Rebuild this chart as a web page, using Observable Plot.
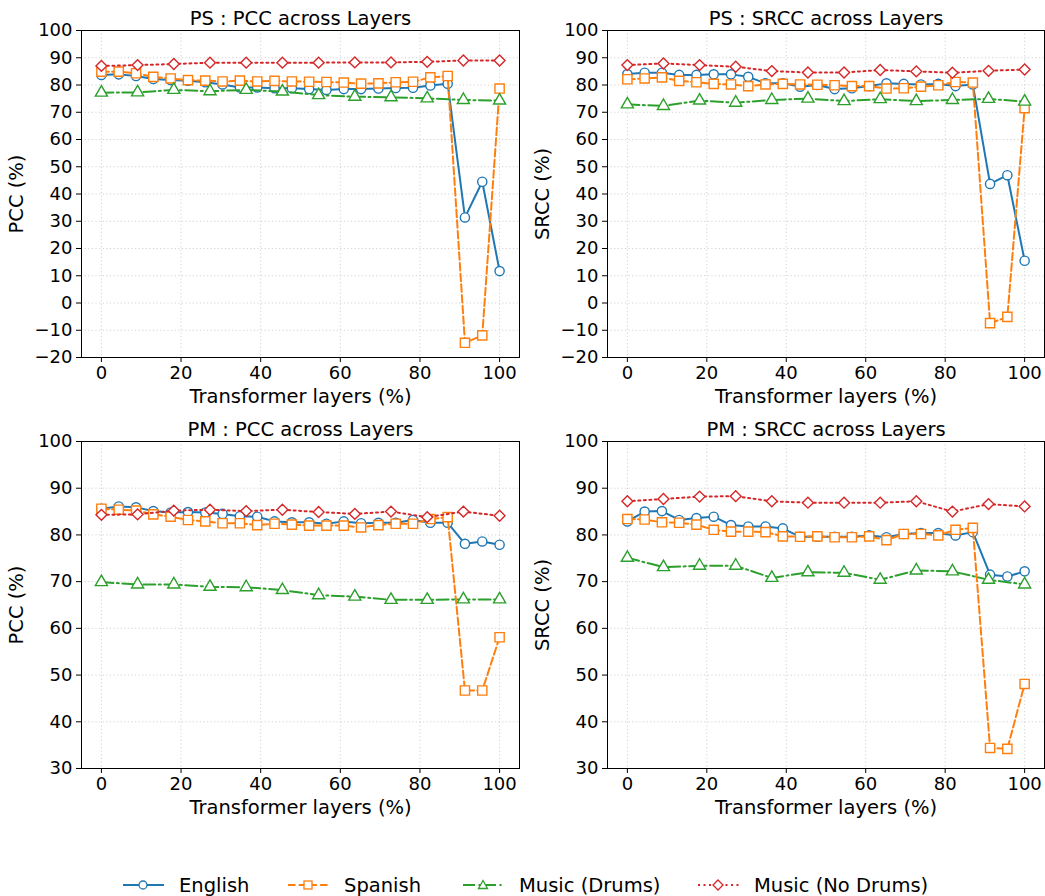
<!DOCTYPE html>
<html><head><meta charset="utf-8">
<script src="https://cdn.jsdelivr.net/npm/d3@7"></script>
<script src="https://cdn.jsdelivr.net/npm/@observablehq/plot@0.6"></script>
<style>
body{margin:0;background:#fff;font-family:"DejaVu Sans",sans-serif;}
#root{position:relative;width:1045px;height:896px;overflow:hidden;}
.panel{position:absolute;}
.leg{position:absolute;top:872px;height:26px;display:flex;align-items:center;font-size:19.5px;color:#000;white-space:nowrap;}
.leg svg{margin-right:15px;}
</style></head><body><div id="root"></div>
<script>
// layer positions (% of transformer depth)
const langX = [0, 4.35, 8.7, 13.04, 17.39, 21.74, 26.09, 30.43, 34.78, 39.13, 43.48, 47.83, 52.17, 56.52, 60.87, 65.22, 69.57, 73.91, 78.26, 82.61, 86.96, 91.3, 95.65, 100];
const musicX = [0, 9.09, 18.18, 27.27, 36.36, 45.45, 54.55, 63.64, 72.73, 81.82, 90.91, 100];
const seriesNames = ["English", "Spanish", "Music (Drums)", "Music (No Drums)"];
const xTicks = [0, 20, 40, 60, 80, 100];
const yTicksPS = [-20, -10, 0, 10, 20, 30, 40, 50, 60, 70, 80, 90, 100];
const yTicksPM = [30, 40, 50, 60, 70, 80, 90, 100];

// PS : PCC
const psPccEnglish = [83.7, 83.9, 83.3, 82.2, 81.8, 81.6, 81.0, 80.2, 79.1, 79.1, 78.8, 78.8, 78.5, 78.2, 78.5, 78.5, 78.7, 78.9, 79.0, 79.8, 80.5, 31.4, 44.5, 11.7];
const psPccSpanish = [84.9, 84.9, 84.3, 83.0, 82.4, 81.8, 81.6, 81.3, 81.6, 81.3, 81.5, 81.3, 81.2, 81.1, 80.9, 80.5, 80.6, 81.0, 81.2, 82.8, 83.3, -14.6, -11.9, 78.7];
const psPccDrums = [77.2, 77.3, 78.2, 77.7, 78.2, 77.6, 76.3, 75.7, 75.5, 75.1, 74.5, 74.3];
const psPccNoDrums = [87.0, 87.3, 87.7, 88.2, 88.2, 88.2, 88.2, 88.3, 88.3, 88.5, 89.0, 89.0];
// PS : SRCC
const psSrccEnglish = [84.0, 84.5, 84.5, 83.7, 83.7, 83.9, 83.9, 83.0, 80.6, 80.6, 79.4, 80.0, 78.5, 78.8, 79.6, 80.6, 80.4, 80.2, 80.4, 79.6, 80.2, 43.7, 46.9, 15.5];
const psSrccSpanish = [82.1, 82.4, 82.8, 81.5, 81.0, 80.4, 80.2, 79.6, 80.2, 80.4, 80.2, 80.1, 79.9, 79.6, 79.6, 78.7, 78.8, 79.4, 79.9, 81.1, 80.9, -7.4, -5.1, 71.5];
const psSrccDrums = [72.9, 72.3, 74.3, 73.5, 74.5, 75.0, 74.1, 74.8, 74.1, 74.5, 74.9, 73.9];
const psSrccNoDrums = [87.3, 87.9, 87.3, 86.7, 85.1, 84.6, 84.6, 85.5, 85.0, 84.5, 85.2, 85.7];
// PM : PCC
const pmPccEnglish = [85.6, 86.1, 85.9, 85.1, 84.8, 84.9, 84.8, 84.5, 84.0, 83.9, 82.9, 82.7, 82.7, 82.4, 82.9, 82.5, 82.6, 82.6, 83.2, 82.6, 82.6, 78.1, 78.6, 77.9];
const pmPccSpanish = [85.6, 85.4, 85.2, 84.4, 83.9, 83.2, 82.9, 82.5, 82.5, 82.1, 82.4, 82.2, 82.0, 82.0, 82.0, 81.6, 82.1, 82.4, 82.4, 83.4, 83.8, 46.7, 46.7, 58.1];
const pmPccDrums = [69.9, 69.4, 69.4, 68.9, 68.8, 68.2, 67.1, 66.8, 66.1, 66.1, 66.2, 66.2];
const pmPccNoDrums = [84.3, 84.4, 85.2, 85.4, 85.1, 85.4, 84.9, 84.5, 85.0, 83.8, 85.0, 84.1];
// PM : SRCC
const pmSrccEnglish = [82.9, 85.0, 85.1, 83.2, 83.6, 83.9, 82.1, 81.8, 81.8, 81.4, 79.6, 79.6, 79.6, 79.6, 79.9, 79.5, 80.2, 80.4, 80.4, 79.9, 80.6, 71.5, 71.1, 72.2];
const pmSrccSpanish = [83.4, 83.3, 82.7, 82.6, 82.2, 81.1, 80.7, 80.7, 80.6, 79.7, 79.6, 79.7, 79.5, 79.5, 79.7, 78.9, 80.2, 80.2, 79.9, 81.1, 81.5, 34.4, 34.2, 48.1];
const pmSrccDrums = [75.1, 73.1, 73.4, 73.4, 70.8, 72.0, 71.9, 70.4, 72.4, 72.2, 70.4, 69.4];
const pmSrccNoDrums = [87.2, 87.7, 88.2, 88.3, 87.2, 86.9, 86.9, 86.9, 87.2, 85.0, 86.6, 86.1];

const styles = [
  {color: "#1f77b4", dash: null, symbol: "circle", r: 4.6},
  {color: "#ff7f0e", dash: "7.5,3.2", symbol: "square", r: 5.2},
  {color: "#2ca02c", dash: "12,3.5,2,3.5", symbol: "triangle", r: 4.5},
  {color: "#d62728", dash: "2,3.5", symbol: "diamond2", r: 4.9}
];

function zipXY(xs, ys) { return xs.map((x, i) => ({x, y: ys[i]})); }

function panel({title, ylabel, ydomain, yticks, data, left, top, width, marginLeft, marginRight}) {
  const marks = [
    Plot.gridX(xTicks, {stroke: "#c8c8c8", strokeOpacity: 1, strokeDasharray: "1.2,2.4", strokeWidth: 0.8}),
    Plot.gridY(yticks, {stroke: "#c8c8c8", strokeOpacity: 1, strokeDasharray: "1.2,2.4", strokeWidth: 0.8}),
    Plot.axisX(xTicks, {tickSize: 5, tickPadding: 4, stroke: "black", fontSize: 18, label: null}),
    Plot.axisX({label: "Transformer layers (%)", labelAnchor: "center", labelArrow: "none", labelOffset: 45, ticks: [], tickSize: 0, fontSize: 19.5}),
    Plot.axisY(yticks, {tickSize: 5, tickPadding: 4, stroke: "black", fontSize: 18, label: null}),
    Plot.axisY({label: ylabel, labelAnchor: "center", labelArrow: "none", labelOffset: 72, ticks: [], tickSize: 0, fontSize: 19.5})
  ];
  data.forEach((d, i) => {
    const s = styles[i];
    marks.push(Plot.line(d, {x: "x", y: "y", stroke: s.color, strokeWidth: 2, strokeDasharray: s.dash}));
    marks.push(Plot.dot(d, {x: "x", y: "y", symbol: s.symbol, r: s.r, stroke: s.color, fill: "white", strokeWidth: 1.4}));
  });
  marks.push(Plot.frame({stroke: "black", strokeWidth: 1}));
  marks.push(Plot.text([title], {frameAnchor: "top", dy: -19, fontSize: 19.5, fill: "black"}));
  const svg = Plot.plot({
    width, height: 411,
    marginLeft, marginRight, marginTop: 30, marginBottom: 54,
    style: {fontFamily: "DejaVu Sans", fontSize: "18px", color: "black", background: "white", overflow: "visible"},
    x: {domain: [-5, 105]},
    y: {domain: ydomain},
    marks
  });
  svg.classList.add("panel");
  svg.style.left = left + "px";
  svg.style.top = top + "px";
  document.getElementById("root").appendChild(svg);
}

panel({title: "PS : PCC across Layers", ylabel: "PCC (%)", ydomain: [-20, 100], yticks: yTicksPS,
  data: [zipXY(langX, psPccEnglish), zipXY(langX, psPccSpanish), zipXY(musicX, psPccDrums), zipXY(musicX, psPccNoDrums)],
  left: 0, top: 0, width: 522, marginLeft: 81, marginRight: 3});
panel({title: "PS : SRCC across Layers", ylabel: "SRCC (%)", ydomain: [-20, 100], yticks: yTicksPS,
  data: [zipXY(langX, psSrccEnglish), zipXY(langX, psSrccSpanish), zipXY(musicX, psSrccDrums), zipXY(musicX, psSrccNoDrums)],
  left: 522, top: 0, width: 523, marginLeft: 85, marginRight: 1});
panel({title: "PM : PCC across Layers", ylabel: "PCC (%)", ydomain: [30, 100], yticks: yTicksPM,
  data: [zipXY(langX, pmPccEnglish), zipXY(langX, pmPccSpanish), zipXY(musicX, pmPccDrums), zipXY(musicX, pmPccNoDrums)],
  left: 0, top: 411, width: 522, marginLeft: 81, marginRight: 3});
panel({title: "PM : SRCC across Layers", ylabel: "SRCC (%)", ydomain: [30, 100], yticks: yTicksPM,
  data: [zipXY(langX, pmSrccEnglish), zipXY(langX, pmSrccSpanish), zipXY(musicX, pmSrccDrums), zipXY(musicX, pmSrccNoDrums)],
  left: 522, top: 411, width: 523, marginLeft: 85, marginRight: 1});

// legend
const legLeft = [123, 288, 463, 698];
const symPaths = [
  '<circle cx="20" cy="13" r="4" fill="white" stroke="COLOR" stroke-width="1.3"/>',
  '<rect x="16" y="9" width="8" height="8" fill="white" stroke="COLOR" stroke-width="1.3"/>',
  '<path d="M20,8.5 L24.5,16.5 L15.5,16.5 Z" fill="white" stroke="COLOR" stroke-width="1.3"/>',
  '<path d="M20,8 L25,13 L20,18 L15,13 Z" fill="white" stroke="COLOR" stroke-width="1.3"/>'
];
seriesNames.forEach((name, i) => {
  const s = styles[i];
  const div = document.createElement("div");
  div.className = "leg";
  div.style.left = legLeft[i] + "px";
  div.innerHTML = `<svg width="41" height="26"><line x1="0" y1="13" x2="41" y2="13" stroke="${s.color}" stroke-width="2" ${s.dash ? `stroke-dasharray="${s.dash}"` : ""}/>${symPaths[i].replace(/COLOR/g, s.color)}</svg><span>${name}</span>`;
  document.getElementById("root").appendChild(div);
});
</script></body></html>
